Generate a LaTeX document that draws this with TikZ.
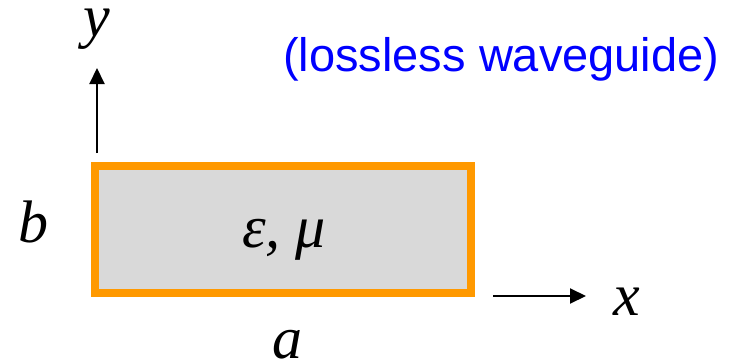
\documentclass[tikz,border=0pt]{standalone}
\usepackage{fontspec}
\setmainfont{Liberation Serif}
\newfontfamily\labelsans{Liberation Sans}
\usetikzlibrary{arrows.meta}
\definecolor{wgorange}{RGB}{255,153,0}
\definecolor{wggray}{RGB}{217,217,217}
\definecolor{wgblue}{RGB}{0,0,255}
\tikzset{
  axis/.style={line width=2pt,-{Triangle[length=16pt,width=15pt]}},
  mathlbl/.style={font=\fontsize{60}{60}\selectfont\itshape,inner sep=0pt,anchor=base},
}
\begin{document}
\begin{tikzpicture}[x=1pt,y=1pt]
\useasboundingbox (0,0) rectangle (740,360);
\fill[white] (0,0) rectangle (740,360);
\draw[wgorange,fill=wggray,line width=8pt] (95,67) rectangle (471,194);
\coordinate (ys) at (97,207);
\coordinate (ye) at (97,292);
\coordinate (xs) at (493,64);
\coordinate (xe) at (586,64);
\draw[axis] (ys) -- (ye);
\draw[axis] (xs) -- (xe);
\node[mathlbl] (ylbl) at (97,324) {y};
\node[mathlbl] (xlbl) at (627,45) {x};
\node[mathlbl] (blbl) at (33,118) {b};
\node[mathlbl] (albl) at (287,2) {a};
\node[mathlbl] (eps) at (284,113) {ε, μ};
\node[font=\labelsans\fontsize{47}{47}\selectfont,text=wgblue,inner sep=0pt,anchor=base west] (title) at (283,289) {(lossless waveguide)};
\end{tikzpicture}
\end{document}
